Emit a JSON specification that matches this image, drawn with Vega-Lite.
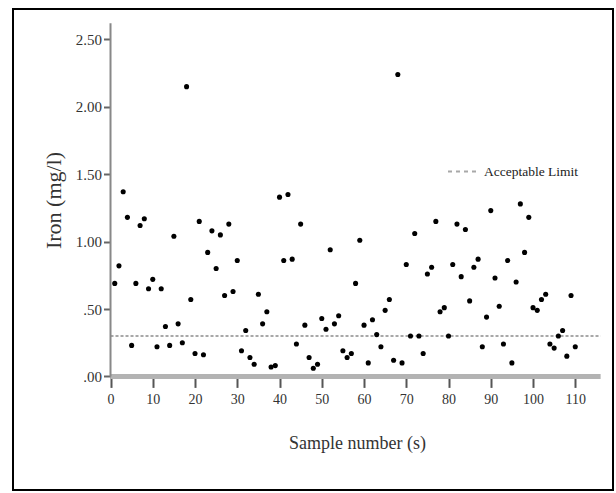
{
  "$schema": "https://vega.github.io/schema/vega-lite/v6.json",
  "width": 600,
  "height": 481,
  "autosize": {"type": "none"},
  "padding": {"left": 13, "top": 9, "right": 3, "bottom": 3},
  "background": "white",
  "config": {
    "font": "Liberation Serif",
    "view": {"stroke": "#000000", "strokeWidth": 2}
  },
  "datasets": {
    "iron": [
      {"s":1,"iron":0.69},{"s":2,"iron":0.82},{"s":3,"iron":1.37},{"s":4,"iron":1.18},{"s":5,"iron":0.23},
      {"s":6,"iron":0.69},{"s":7,"iron":1.12},{"s":8,"iron":1.17},{"s":9,"iron":0.65},{"s":10,"iron":0.72},
      {"s":11,"iron":0.22},{"s":12,"iron":0.65},{"s":13,"iron":0.37},{"s":14,"iron":0.23},{"s":15,"iron":1.04},
      {"s":16,"iron":0.39},{"s":17,"iron":0.25},{"s":18,"iron":2.15},{"s":19,"iron":0.57},{"s":20,"iron":0.17},
      {"s":21,"iron":1.15},{"s":22,"iron":0.16},{"s":23,"iron":0.92},{"s":24,"iron":1.08},{"s":25,"iron":0.80},
      {"s":26,"iron":1.05},{"s":27,"iron":0.60},{"s":28,"iron":1.13},{"s":29,"iron":0.63},{"s":30,"iron":0.86},
      {"s":31,"iron":0.19},{"s":32,"iron":0.34},{"s":33,"iron":0.14},{"s":34,"iron":0.09},{"s":35,"iron":0.61},
      {"s":36,"iron":0.39},{"s":37,"iron":0.48},{"s":38,"iron":0.07},{"s":39,"iron":0.08},{"s":40,"iron":1.33},
      {"s":41,"iron":0.86},{"s":42,"iron":1.35},{"s":43,"iron":0.87},{"s":44,"iron":0.24},{"s":45,"iron":1.13},
      {"s":46,"iron":0.38},{"s":47,"iron":0.14},{"s":48,"iron":0.06},{"s":49,"iron":0.09},{"s":50,"iron":0.43},
      {"s":51,"iron":0.35},{"s":52,"iron":0.94},{"s":53,"iron":0.39},{"s":54,"iron":0.45},{"s":55,"iron":0.19},
      {"s":56,"iron":0.14},{"s":57,"iron":0.17},{"s":58,"iron":0.69},{"s":59,"iron":1.01},{"s":60,"iron":0.38},
      {"s":61,"iron":0.10},{"s":62,"iron":0.42},{"s":63,"iron":0.31},{"s":64,"iron":0.22},{"s":65,"iron":0.49},
      {"s":66,"iron":0.57},{"s":67,"iron":0.12},{"s":68,"iron":2.24},{"s":69,"iron":0.10},{"s":70,"iron":0.83},
      {"s":71,"iron":0.30},{"s":72,"iron":1.06},{"s":73,"iron":0.30},{"s":74,"iron":0.17},{"s":75,"iron":0.76},
      {"s":76,"iron":0.81},{"s":77,"iron":1.15},{"s":78,"iron":0.48},{"s":79,"iron":0.51},{"s":80,"iron":0.30},
      {"s":81,"iron":0.83},{"s":82,"iron":1.13},{"s":83,"iron":0.74},{"s":84,"iron":1.09},{"s":85,"iron":0.56},
      {"s":86,"iron":0.81},{"s":87,"iron":0.87},{"s":88,"iron":0.22},{"s":89,"iron":0.44},{"s":90,"iron":1.23},
      {"s":91,"iron":0.73},{"s":92,"iron":0.52},{"s":93,"iron":0.24},{"s":94,"iron":0.86},{"s":95,"iron":0.10},
      {"s":96,"iron":0.70},{"s":97,"iron":1.28},{"s":98,"iron":0.92},{"s":99,"iron":1.18},{"s":100,"iron":0.51},
      {"s":101,"iron":0.49},{"s":102,"iron":0.57},{"s":103,"iron":0.61},{"s":104,"iron":0.24},{"s":105,"iron":0.21},
      {"s":106,"iron":0.30},{"s":107,"iron":0.34},{"s":108,"iron":0.15},{"s":109,"iron":0.60},{"s":110,"iron":0.22}
    ],
    "limit": [{"limit": 0.3, "label": "Acceptable Limit"}]
  },
  "layer": [
    {
      "data": {"name": "limit"},
      "mark": {"type": "rule", "strokeWidth": 2, "strokeDash": [3, 2]},
      "encoding": {
        "x": {"datum": 0, "type": "quantitative",
          "scale": {"domain": [-23.08, 118.93], "nice": false, "zero": false},
          "axis": {
            "orient": "bottom", "offset": -113.6, "domain": false,
            "values": [0,10,20,30,40,50,60,70,80,90,100,110],
            "tickSize": 11, "tickWidth": 2, "tickColor": "#555555",
            "labelFontSize": 14, "labelColor": "#333333", "labelPadding": 5,
            "grid": false,
            "title": "Sample number (s)", "titleFontSize": 18, "titleFontWeight": "normal",
            "titleColor": "#333333", "titleX": 344, "titleY": 67, "titleBaseline": "middle", "titleAlign": "center"
          }
        },
        "x2": {"datum": 116},
        "y": {"field": "limit", "type": "quantitative",
          "scale": {"domain": [-0.843, 2.726], "nice": false, "zero": false},
          "axis": {
            "orient": "left", "offset": -97.5, "domain": false,
            "values": [0, 0.5, 1, 1.5, 2, 2.5],
            "labelExpr": "datum.value < 1 ? '.' + substring(format(datum.value, '.2f'), 2) : format(datum.value, '.2f')",
            "tickSize": 7, "tickWidth": 2, "tickColor": "#666666",
            "labelFontSize": 15, "labelColor": "#333333", "labelPadding": 2,
            "grid": false,
            "title": "Iron (mg/l)", "titleFontSize": 22, "titleFontWeight": "normal",
            "titleColor": "#333333", "titleX": -57, "titleY": 191, "titleBaseline": "middle", "titleAlign": "center", "titleAngle": -90
          }
        },
        "color": {"field": "label", "type": "nominal",
          "scale": {"domain": ["Acceptable Limit"], "range": ["#a8a8a8"]},
          "legend": {
            "title": null, "orient": "none", "legendX": 434, "legendY": 146,
            "symbolType": "stroke", "symbolSize": 961, "symbolDash": [4, 4], "symbolStrokeWidth": 2,
            "symbolStrokeColor": "#888888",
            "labelFontSize": 13.5, "labelColor": "#222222", "labelOffset": 4, "padding": 0
          }
        }
      }
    },
    {
      "data": {"name": "limit"},
      "mark": {"type": "rule", "color": "#b3b3b3", "strokeWidth": 5},
      "encoding": {
        "x": {"datum": 0, "type": "quantitative"},
        "x2": {"datum": 116},
        "y": {"datum": 0, "type": "quantitative"}
      }
    },
    {
      "data": {"name": "limit"},
      "mark": {"type": "rule", "color": "#888888", "strokeWidth": 2},
      "encoding": {
        "x": {"datum": 0, "type": "quantitative"},
        "y": {"datum": 0, "type": "quantitative"},
        "y2": {"datum": 2.62}
      }
    },
    {
      "data": {"name": "iron"},
      "mark": {"type": "circle", "color": "#000000", "opacity": 1, "size": 26},
      "encoding": {
        "x": {"field": "s", "type": "quantitative"},
        "y": {"field": "iron", "type": "quantitative"}
      }
    }
  ]
}
